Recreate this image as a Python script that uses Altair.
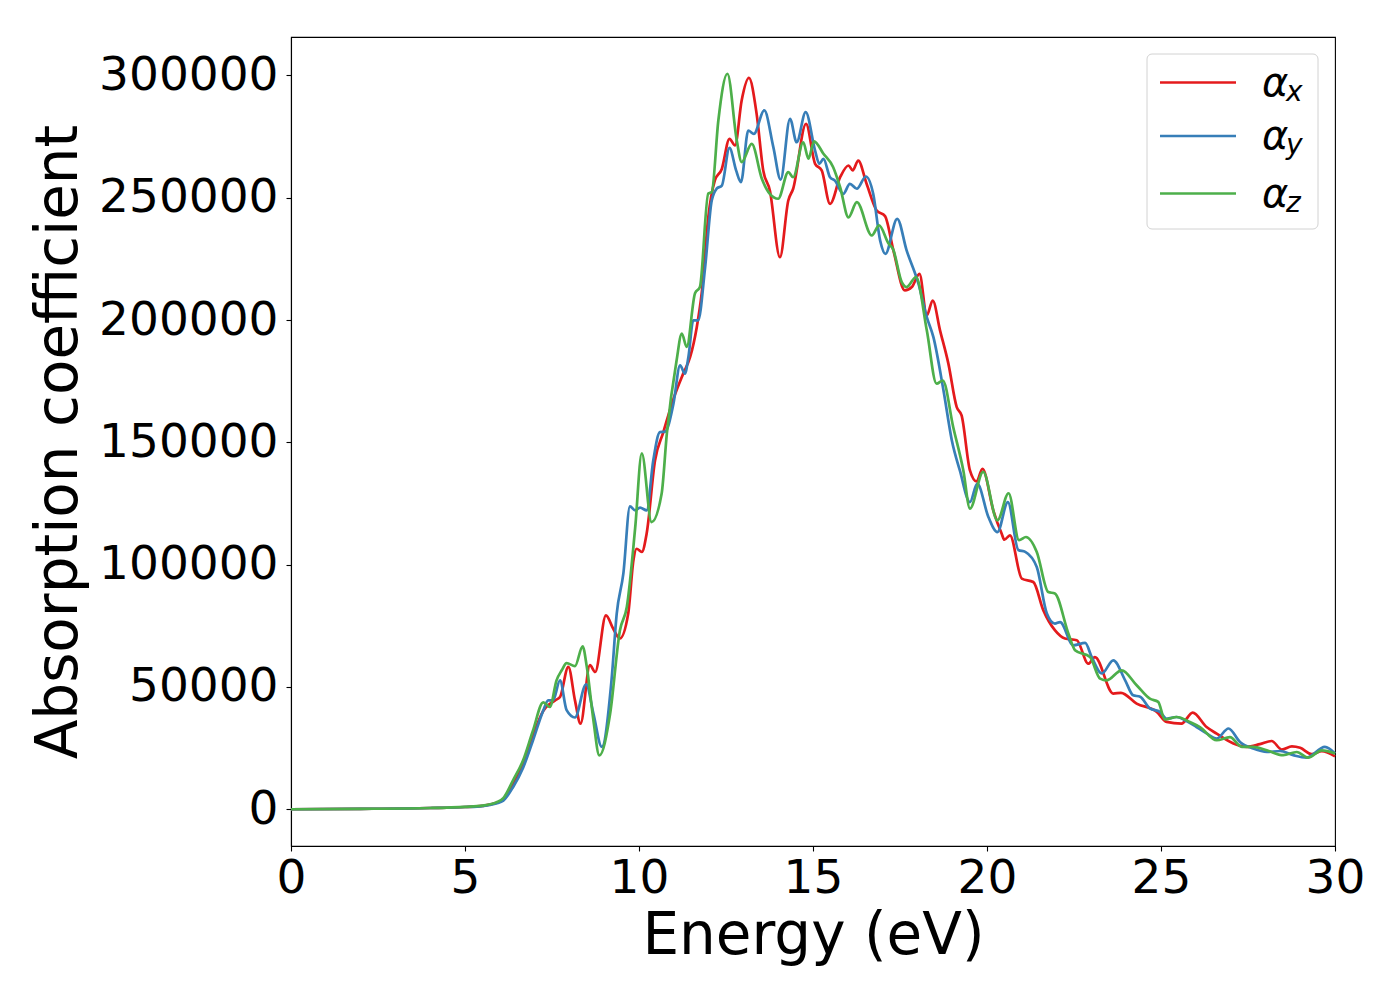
import altair as alt
import pandas as pd

# ---- data ----
E_x = [0, 2, 4, 5, 5.5, 5.9, 6.1, 6.38, 6.67, 6.95, 7.24, 7.59, 7.73, 7.97, 8.16, 8.32, 8.59, 8.74,
       9.05, 9.26, 9.45, 9.69, 9.84, 9.93, 10.08, 10.22, 10.46, 10.7, 10.99, 11.27, 11.47, 11.66, 11.8,
       11.99, 12.18, 12.38, 12.6, 12.76, 12.95, 13.16, 13.38, 13.57, 13.76, 14.05, 14.29, 14.43, 14.8,
       15.06, 15.25, 15.49, 15.78, 16.02, 16.14, 16.3, 16.54, 16.83, 17.07, 17.31, 17.64, 17.84, 18.06,
       18.27, 18.44, 18.65, 18.89, 19.13, 19.27, 19.51, 19.7, 19.87, 20.18, 20.42, 20.5, 20.66, 21.0,
       21.33, 21.62, 21.95, 22.24, 22.58, 22.91, 23.1, 23.63, 23.85, 24.3, 24.88, 25.16, 25.59, 25.91,
       26.31, 26.6, 27.08, 27.46, 27.84, 28.18, 28.47, 28.76, 29.0, 29.33, 29.62, 30]
A_x = [0, 150, 500, 900, 1400, 2600, 4000, 10000, 18500, 30000, 40000, 44500, 45900, 58200, 44500, 35000,
       58900, 56100, 79300, 73800, 69800, 80000, 101800, 106500, 105200, 112700, 142600, 154200, 167800,
       178100, 184900, 197100, 210800, 242000, 257100, 261800, 274100, 271400, 289800, 299000, 284300,
       261200, 253000, 225700, 248900, 253700, 280200, 263900, 261200, 247500, 258400, 263200, 261200,
       265200, 255700, 244800, 242500, 228500, 212100, 213500, 218900, 201900, 208000, 195800, 182200,
       164400, 161000, 138500, 134000, 139200, 122200, 112700, 110200, 112000, 94300, 92900, 81300,
       73200, 69800, 69100, 59500, 62200, 47300, 47600, 43200, 39800, 35700, 35000, 39500, 33600, 30900,
       26900, 25500, 26600, 27900, 24400, 25700, 25100, 22500, 23700, 21600]

E_y = [0, 2, 4, 5, 5.5, 5.9, 6.1, 6.38, 6.67, 6.95, 7.24, 7.39, 7.53, 7.73, 7.92, 8.16, 8.48, 8.69, 8.93,
       9.21, 9.36, 9.55, 9.74, 9.89, 10.03, 10.22, 10.41, 10.6, 10.75, 10.99, 11.18, 11.32, 11.42, 11.56,
       11.7, 11.9, 12.09, 12.23, 12.38, 12.6, 12.79, 12.93, 13.14, 13.3, 13.6, 13.86, 14.07, 14.34, 14.53,
       14.79, 15.06, 15.18, 15.3, 15.49, 15.63, 15.87, 16.06, 16.26, 16.52, 16.73, 16.93, 17.08, 17.42,
       17.69, 18.03, 18.27, 18.46, 18.75, 18.99, 19.22, 19.51, 19.72, 20.04, 20.3, 20.6, 20.9, 21.1, 21.43,
       21.72, 21.95, 22.1, 22.48, 22.82, 23.01, 23.3, 23.63, 23.97, 24.2, 24.4, 24.68, 24.97, 25.16, 25.45,
       25.7, 26.02, 26.31, 26.6, 26.94, 27.27, 27.65, 28.04, 28.42, 28.8, 29.18, 29.71, 30]
A_y = [0, 150, 500, 900, 1300, 2400, 3500, 9000, 17000, 28000, 40000, 44500, 44500, 52700, 40500, 37500,
       51100, 39100, 25500, 52700, 80000, 96300, 123800, 122200, 123300, 122200, 142600, 154200, 154400,
       165800, 181500, 178100, 184900, 199900, 199900, 221600, 248900, 253700, 255000, 270400, 261200,
       256400, 277500, 276100, 285700, 270700, 257400, 282300, 272700, 285000, 269300, 263900, 265900,
       258400, 257000, 251600, 255700, 253700, 258700, 251600, 232500, 227100, 241400, 228500, 214900,
       201200, 193000, 171200, 150800, 138500, 125600, 133100, 119500, 113300, 125600, 106000, 105200,
       99000, 80000, 75900, 76500, 67000, 68000, 62200, 55500, 60900, 52700, 46600, 46000, 41200, 39800,
       37000, 37700, 36300, 33600, 31000, 28900, 33000, 27500, 24800, 23400, 23800, 22100, 21100, 25500,
       22800]

E_z = [0, 2, 4, 5, 5.5, 5.9, 6.1, 6.38, 6.67, 6.95, 7.25, 7.44, 7.63, 7.78, 7.92, 8.16, 8.38, 8.5, 8.69,
       8.86, 9.17, 9.45, 9.65, 9.89, 10.08, 10.36, 10.65, 10.8, 11.08, 11.23, 11.37, 11.61, 11.75, 11.99,
       12.09, 12.28, 12.54, 12.81, 12.95, 13.24, 13.53, 13.76, 14.0, 14.29, 14.43, 14.72, 14.87, 15.03,
       15.3, 15.58, 15.78, 16.02, 16.26, 16.69, 16.9, 17.17, 17.3, 17.55, 17.69, 17.96, 18.27, 18.55,
       18.73, 19.03, 19.32, 19.51, 19.89, 20.3, 20.62, 20.92, 21.12, 21.43, 21.76, 21.95, 22.34, 22.53,
       22.96, 23.25, 23.44, 23.87, 24.3, 24.68, 24.92, 25.11, 25.45, 25.83, 26.12, 26.6, 26.98, 27.32,
       27.65, 28.04, 28.51, 28.9, 29.23, 29.62, 30]
A_z = [0, 150, 500, 1000, 1500, 2800, 4500, 11800, 20000, 32000, 43700, 41800, 52700, 56800, 59700, 58500,
       66600, 58200, 36400, 22000, 39000, 73000, 82700, 115000, 145500, 117400, 129000, 153600, 183500,
       194500, 189000, 211000, 213500, 251700, 252300, 281600, 300700, 273400, 264600, 272000, 257800,
       251600, 249600, 260500, 258400, 272700, 266000, 273100, 268000, 262500, 254300, 242000, 248200,
       234600, 238700, 231300, 229000, 215500, 213500, 217600, 195800, 174000, 175300, 156200, 138500,
       122900, 137900, 118100, 129200, 110000, 111300, 105200, 88800, 88200, 71800, 65000, 62200, 53400,
       52700, 56800, 50700, 45200, 43900, 36700, 37700, 35700, 33600, 28200, 29500, 25500, 25500, 24100,
       22100, 23400, 21100, 24100, 22800]

series_keys = ["a_x", "a_y", "a_z"]
series_colors = ["#e41a1c", "#377eb8", "#4daf4a"]
legend_subs = ["x", "y", "z"]
x_ticks = [0, 5, 10, 15, 20, 25, 30]
y_ticks = [0, 50000, 100000, 150000, 200000, 250000, 300000]

rows = []
for key, E, A in zip(series_keys, [E_x, E_y, E_z], [A_x, A_y, A_z]):
    for i, (e, a) in enumerate(zip(E, A)):
        rows.append({"series": key, "E": e, "A": a, "i": i})
df = pd.DataFrame(rows)

FONT = "DejaVu Sans"
W, H = 1044, 809

lines = alt.Chart(df).mark_line(strokeWidth=2.7, interpolate="monotone").encode(
    x=alt.X("E:Q", scale=alt.Scale(domain=[0, 30], nice=False, zero=False),
            axis=alt.Axis(values=x_ticks, title="Energy (eV)", format="d")),
    y=alt.Y("A:Q", scale=alt.Scale(domain=[-15035, 315735], nice=False, zero=False),
            axis=alt.Axis(values=y_ticks, title="Absorption coefficient", format="d")),
    color=alt.Color("series:N", scale=alt.Scale(domain=series_keys, range=series_colors), legend=None),
    order="i:Q",
)

one = pd.DataFrame({"k": [0]})
layers = [lines]
layers.append(alt.Chart(one).mark_rect(fill="white", stroke="#cccccc", strokeWidth=1,
                                       cornerRadius=5, opacity=0.85).encode(
    x=alt.value(856), x2=alt.value(1027), y=alt.value(17), y2=alt.value(192)))
ys = [45.5, 99, 156.5]
for c, s, yy in zip(series_colors, legend_subs, ys):
    layers.append(alt.Chart(one).mark_rule(color=c, strokeWidth=2.7).encode(
        x=alt.value(869), x2=alt.value(945), y=alt.value(yy)))
    layers.append(alt.Chart(one).mark_text(text="α", font=FONT, fontSize=40, fontStyle="italic",
                                           align="left", baseline="alphabetic", color="black").encode(
        x=alt.value(971), y=alt.value(yy + 13)))
    layers.append(alt.Chart(one).mark_text(text=s, font=FONT, fontSize=28, fontStyle="italic",
                                           align="left", baseline="alphabetic", color="black").encode(
        x=alt.value(995), y=alt.value(yy + 18)))

chart = alt.layer(*layers).properties(
    width=W, height=H, padding={"left": 22, "top": 29, "right": 5, "bottom": 5}
).configure_view(
    stroke="black", strokeWidth=1.1
).configure_axis(
    grid=False, domainColor="black", tickColor="black", labelColor="black", titleColor="black",
    labelFont=FONT, titleFont=FONT, labelFontSize=47, titleFontSize=58, titleFontWeight="normal",
    tickSize=5, tickWidth=1.1, domainWidth=1.1, labelFlush=False, labelOverlap=False,
).configure_axisX(labelPadding=4, titlePadding=6).configure_axisY(labelPadding=8, titlePadding=10)

chart.save("out.html", embed_options={"renderer": "svg", "actions": False})
